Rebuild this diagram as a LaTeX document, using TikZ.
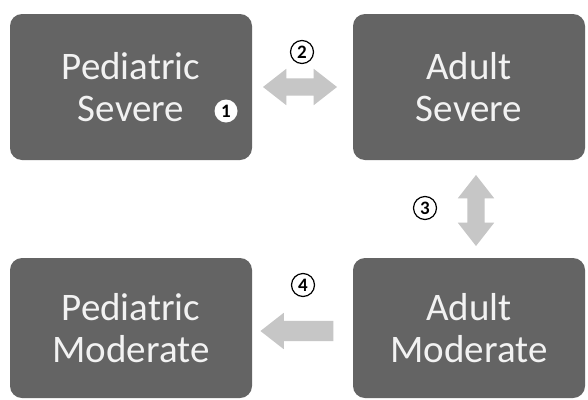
\documentclass[tikz,border=0pt]{standalone}
\usepackage{fontspec}
\setmainfont{Carlito}
\usetikzlibrary{shapes.arrows}
\definecolor{boxgray}{RGB}{100,100,100}
\definecolor{arrowgray}{RGB}{198,198,198}
\definecolor{boxtext}{RGB}{242,242,242}
\begin{document}
\begin{tikzpicture}[x=1pt,y=-1pt,
  box/.style={fill=boxgray, draw=none, rounded corners=12pt, text=boxtext,
    align=center, inner sep=0pt, font=\fontsize{39}{42}\selectfont},
  dblarrow/.style={double arrow, fill=arrowgray, draw=none, inner xsep=0pt, inner ysep=8.5pt,
    minimum height=74pt, double arrow head extend=9.5pt,
    double arrow tip angle=76},
  sglarrow/.style={single arrow, fill=arrowgray, draw=none, inner xsep=0pt, inner ysep=10pt,
    minimum height=73pt, single arrow head extend=8pt,
    single arrow tip angle=76},
  num/.style={circle, draw=black, line width=1.2pt, fill=white, inner sep=0pt,
    minimum size=23pt, font=\fontsize{19}{19}\selectfont\bfseries}
]
\useasboundingbox[fill=white] (0,0) rectangle (588,399);
\node[box, minimum width=242pt, minimum height=146pt] (ps) at (131,87) {Pediatric\\Severe};
\node[box, minimum width=232pt, minimum height=146pt] (as) at (469,87) {Adult\\Severe};
\node[box, minimum width=242pt, minimum height=140pt] (pm) at (131,328) {Pediatric\\Moderate};
\node[box, minimum width=232pt, minimum height=140pt] (am) at (469,328) {Adult\\Moderate};

\node[dblarrow] (a2) at (300,87) {};
\node[dblarrow, rotate=90, minimum height=71pt] (a3) at (476,210.5) {};
\node[sglarrow, shape border rotate=180] (a4) at (303.5,331) {};

\node[num, draw=none] (n1) at (226,111) {1};
\node[num, fill=none] (n2) at (302,52) {2};
\node[num, fill=none] (n3) at (425,208) {3};
\node[num, fill=none] (n4) at (303,285) {4};
\end{tikzpicture}
\end{document}
